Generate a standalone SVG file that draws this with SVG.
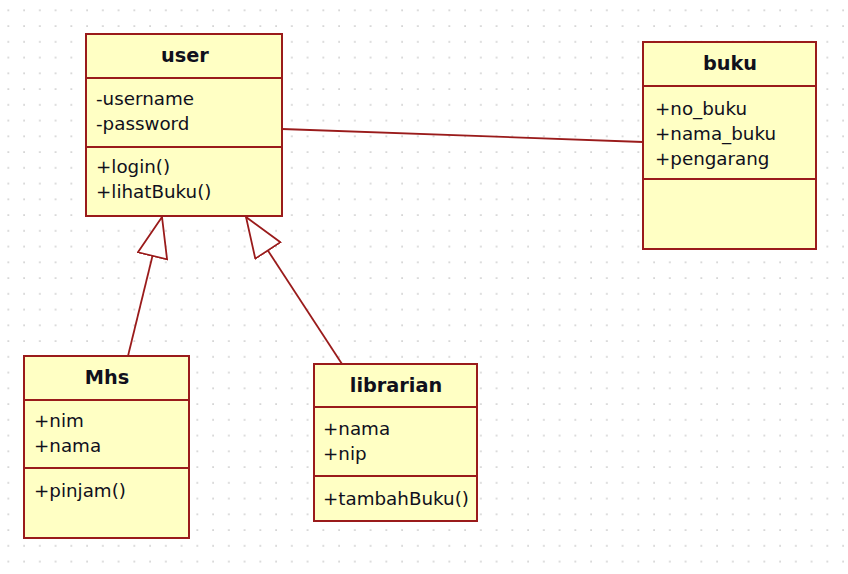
<svg xmlns="http://www.w3.org/2000/svg" width="848" height="574" viewBox="0 0 848 574">
  <defs>
    <pattern id="grid" patternUnits="userSpaceOnUse" x="0.4" y="2.4" width="15.75" height="15.75">
      <rect x="7.2" y="7.2" width="1.5" height="1.5" fill="#c4c4c4"/>
    </pattern>
    <!-- hollow triangle for generalization -->
    <marker id="gen" markerUnits="userSpaceOnUse" markerWidth="42" markerHeight="32" viewBox="-1 -1 42 32" refX="40" refY="15" orient="auto">
      <path d="M0,0 L40,15 L0,30 Z" fill="#ffffff" stroke="#9a1b1b" stroke-width="1.8" stroke-linejoin="miter"/>
    </marker>
  </defs>
  <style>
    .box { fill: #ffffc4; stroke: #9a1b1b; stroke-width: 2; }
    .sep { stroke: #9a1b1b; stroke-width: 2; }
    .conn { fill: none; stroke: #9a1b1b; stroke-width: 1.8; }
    text { font-family: "DejaVu Sans", Verdana, sans-serif; font-size: 18.3px; fill: #10101c; }
    .title { font-weight: bold; font-size: 19.3px; text-anchor: middle; }
  </style>

  <rect width="848" height="574" fill="#ffffff"/>
  <rect width="848" height="574" fill="url(#grid)"/>

  <g id="connectors">
    <line class="conn" x1="282" y1="129" x2="643" y2="142"/>
    <line class="conn" x1="128" y1="356" x2="162" y2="217" marker-end="url(#gen)"/>
    <line class="conn" x1="342" y1="364" x2="246" y2="217" marker-end="url(#gen)"/>
  </g>

  <g id="user">
    <rect class="box" x="86" y="34" width="196" height="182"/>
    <line class="sep" x1="86" y1="78" x2="282" y2="78"/>
    <line class="sep" x1="86" y1="147" x2="282" y2="147"/>
    <text class="title" x="185" y="62">user</text>
    <text x="96" y="105">-username</text>
    <text x="96" y="130">-password</text>
    <text x="96" y="173">+login()</text>
    <text x="96" y="198">+lihatBuku()</text>
  </g>

  <g id="buku">
    <rect class="box" x="643" y="42" width="173" height="207"/>
    <line class="sep" x1="643" y1="86" x2="816" y2="86"/>
    <line class="sep" x1="643" y1="179" x2="816" y2="179"/>
    <text class="title" x="730" y="70">buku</text>
    <text x="655" y="115">+no_buku</text>
    <text x="655" y="140">+nama_buku</text>
    <text x="655" y="165">+pengarang</text>
  </g>

  <g id="Mhs">
    <rect class="box" x="24" y="356" width="165" height="182"/>
    <line class="sep" x1="24" y1="400" x2="189" y2="400"/>
    <line class="sep" x1="24" y1="468" x2="189" y2="468"/>
    <text class="title" x="107" y="384">Mhs</text>
    <text x="34" y="427">+nim</text>
    <text x="34" y="452">+nama</text>
    <text x="34" y="497">+pinjam()</text>
  </g>

  <g id="librarian">
    <rect class="box" x="314" y="364" width="163" height="157"/>
    <line class="sep" x1="314" y1="407" x2="477" y2="407"/>
    <line class="sep" x1="314" y1="476" x2="477" y2="476"/>
    <text class="title" x="396" y="392">librarian</text>
    <text x="323" y="435">+nama</text>
    <text x="323" y="460">+nip</text>
    <text x="323" y="505">+tambahBuku()</text>
  </g>
</svg>
